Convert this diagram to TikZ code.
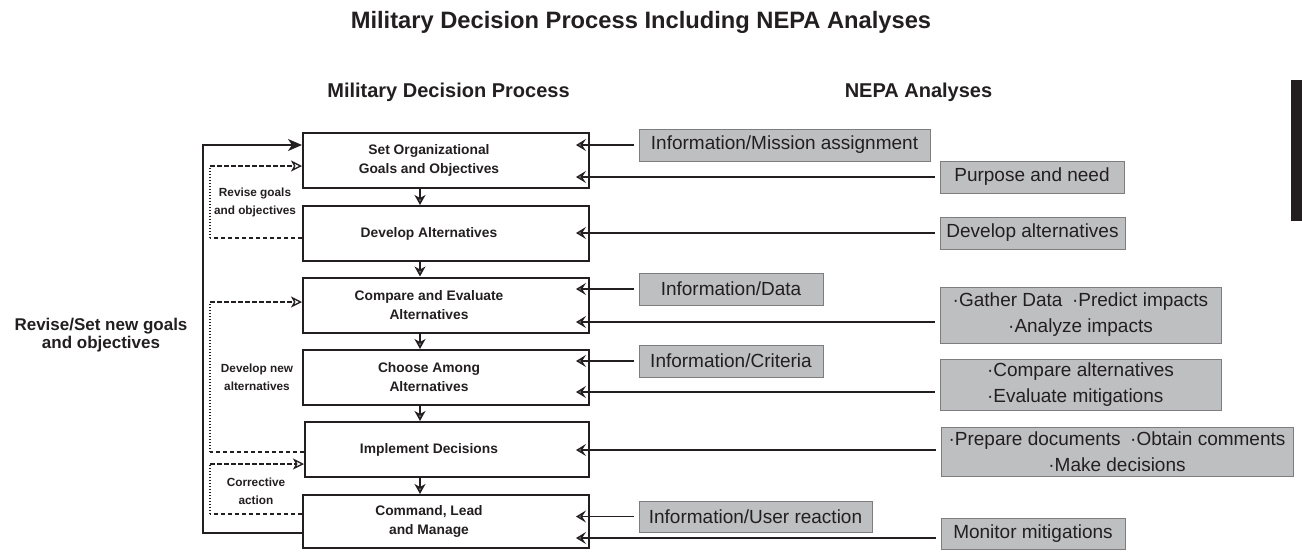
\documentclass[tikz,border=0pt]{standalone}
\usepackage{fontspec}
\setmainfont{Liberation Sans}
\usetikzlibrary{arrows.meta,calc}
\definecolor{ink}{RGB}{35,31,32}
\definecolor{panel}{RGB}{190,191,193}
\definecolor{panelrule}{RGB}{125,125,128}
\definecolor{tipgray}{RGB}{125,125,128}

\begin{document}
\begin{tikzpicture}[x=1pt,y=-1pt,
  stepbox/.style={draw=ink,line width=2pt,minimum width=286pt,minimum height=55pt,inner sep=0pt},
  steptext/.style={font=\fontsize{13.8}{19}\bfseries\selectfont,align=center,text=ink},
  sidetext/.style={font=\fontsize{11.8}{18}\bfseries\selectfont,align=center,text=ink},
  infobox/.style={draw=panelrule,fill=panel,line width=1pt,minimum height=32pt,inner sep=0pt,
    align=center,font=\fontsize{19}{26}\selectfont,text=ink},
  flow/.style={draw=ink,line width=1.5pt,-{Stealth[length=10pt,width=11pt,inset=3pt,fill=tipgray]}},
  feed/.style={draw=ink,line width=1.3pt,-{Stealth[length=10pt,width=12pt,inset=4pt,fill=tipgray]}},
  loopback/.style={draw=ink,line width=1.5pt,-{Stealth[length=14pt,width=12pt,inset=4pt]}},
  reworkh/.style={draw=ink,line width=1.3pt,dash pattern=on 4.5pt off 2.5pt},
  reworkv/.style={draw=ink,line width=1.3pt,dash pattern=on 1.5pt off 1.5pt},
  reworktip/.style={reworkh,-{Stealth[length=11pt,width=11pt,inset=3pt,fill=white]}}
]
\useasboundingbox (0,0) rectangle (1302,552);

% headings
\node[font=\fontsize{23.7}{28}\bfseries\selectfont,text=ink,anchor=base] (title) at (641,28)
  {Military Decision Process Including NEPA Analyses};
\node[font=\fontsize{20}{24}\bfseries\selectfont,text=ink,anchor=base] (hmdp) at (448.5,97)
  {Military Decision Process};
\node[font=\fontsize{20}{24}\bfseries\selectfont,text=ink,anchor=base] (hnepa) at (918.5,97)
  {NEPA Analyses};

% thumb tab at the page edge
\fill[ink] (1291,80) rectangle (1302,221);

% decision steps
\node[stepbox] (b1) at (446,160.5) {};
\node[stepbox] (b2) at (446,233.5) {};
\node[stepbox] (b3) at (446,305) {};
\node[stepbox] (b4) at (446,377.5) {};
\node[stepbox,minimum width=284pt] (b5) at (447,449.5) {};
\node[stepbox,minimum height=53pt] (b6) at (446,521.5) {};

\node[steptext] (t1) at ($(b1.center)+(-17,0)$) {Set Organizational\\Goals and Objectives};
\node[steptext] (t2) at ($(b2.center)+(-17,0)$) {Develop Alternatives};
\node[steptext] (t3) at ($(b3.center)+(-17,0)$) {Compare and Evaluate\\Alternatives};
\node[steptext] (t4) at ($(b4.center)+(-17,0)$) {Choose Among\\Alternatives};
\node[steptext] (t5) at ($(b5.center)+(-18,0)$) {Implement Decisions};
\node[steptext] (t6) at ($(b6.center)+(-17,0)$) {Command, Lead\\and Manage};

% step-to-step arrows
\coordinate (ax) at (420,0);
\draw[flow] (b1.south -| ax) -- (b2.north -| ax);
\draw[flow] (b2.south -| ax) -- (b3.north -| ax);
\draw[flow] (b3.south -| ax) -- (b4.north -| ax);
\draw[flow] (b4.south -| ax) -- (b5.north -| ax);
\draw[flow] (b5.south -| ax) -- (b6.north -| ax);

% outer feedback loop
\coordinate (solidx) at (203,0);
\coordinate (L0s) at ([yshift=-11.5pt]b6.west);
\coordinate (L0e) at ([yshift=15.5pt]b1.west);
\draw[loopback] (L0s) -- (L0s -| solidx) -- (L0e -| solidx) -- (L0e);

% inner (dashed) feedback loops: long dashes across, fine dots upward
\coordinate (dashx) at (210,0);
\coordinate (L1s) at ([yshift=-4.5pt]b2.west);
\coordinate (L1e) at ([yshift=-5.5pt]b1.west);
\coordinate (L2s) at ([yshift=-2.5pt]b5.west);
\coordinate (L2e) at ([yshift=3pt]b3.west);
\coordinate (L3s) at ([yshift=7.5pt]b6.west);
\coordinate (L3e) at ([yshift=-14.5pt]b5.west);
\foreach \s/\e in {L1s/L1e,L2s/L2e,L3s/L3e}{
  \draw[reworkh] (\s) -- (\s -| dashx);
  \draw[reworkv] (\s -| dashx) -- (\e -| dashx);
  \draw[reworktip] (\e -| dashx) -- (\e);
}

\node[sidetext] (s1) at (255,202) {Revise goals\\and objectives};
\node[sidetext] (s2) at (257,377) {Develop new\\alternatives};
\node[sidetext] (s3) at (256,491) {Corrective\\action};
\node[font=\fontsize{17}{18.5}\bfseries\selectfont,align=center,text=ink] (s0) at (101,335)
  {Revise/Set new goals\\and objectives};

% NEPA analysis inputs
\node[infobox,minimum width=291pt] (g1) at (784.5,145) {Information/Mission assignment};
\node[infobox,minimum width=184pt] (g2) at (1032,177) {Purpose and need};
\node[infobox,minimum width=185pt] (g3) at (1032.5,233) {Develop alternatives};
\node[infobox,minimum width=184pt] (g4) at (731,289) {Information/Data};
\node[infobox,minimum width=281pt,minimum height=56pt] (g5) at (1080.5,315)
  {·Gather Data\enspace·Predict impacts\\·Analyze impacts};
\node[infobox,minimum width=184pt] (g6) at (731,361) {Information/Criteria};
\node[infobox,minimum width=281pt,minimum height=51pt,align=left] (g7) at (1080.5,384.5)
  {·Compare alternatives\\·Evaluate mitigations};
\node[infobox,minimum width=352pt,minimum height=49pt] (g8) at (1117,451.5)
  {·Prepare documents\enspace·Obtain comments\\·Make decisions};
\node[infobox,minimum width=233pt,minimum height=31pt] (g9) at (755.5,516.5) {Information/User reaction};
\node[infobox,minimum width=184pt,minimum height=31pt] (g10) at (1033,533.5) {Monitor mitigations};

% arrows from the analyses into the steps
\coordinate (tipx) at ($(b1.east)+(-14,0)$);
\coordinate (a1) at ([xshift=-5pt]g1.west);
\coordinate (a2) at ([xshift=-5pt]g2.west);
\coordinate (a3) at ([xshift=-5pt]g3.west);
\coordinate (a4) at ([xshift=-5pt]g4.west);
\coordinate (a5) at ([xshift=-5pt,yshift=-7pt]g5.west);
\coordinate (a6) at ([xshift=-5pt]g6.west);
\coordinate (a7) at ([xshift=-5pt,yshift=-7.5pt]g7.west);
\coordinate (a8) at ([xshift=-5pt,yshift=1.5pt]g8.west);
\coordinate (a9) at ([xshift=-5pt]g9.west);
\coordinate (a10) at ([xshift=-5pt,yshift=-4.5pt]g10.west);
\foreach \a in {a1,a2,a3,a4,a5,a6,a7,a8,a9,a10}
  \draw[feed] (\a) -- (\a -| tipx);
\end{tikzpicture}
\end{document}
